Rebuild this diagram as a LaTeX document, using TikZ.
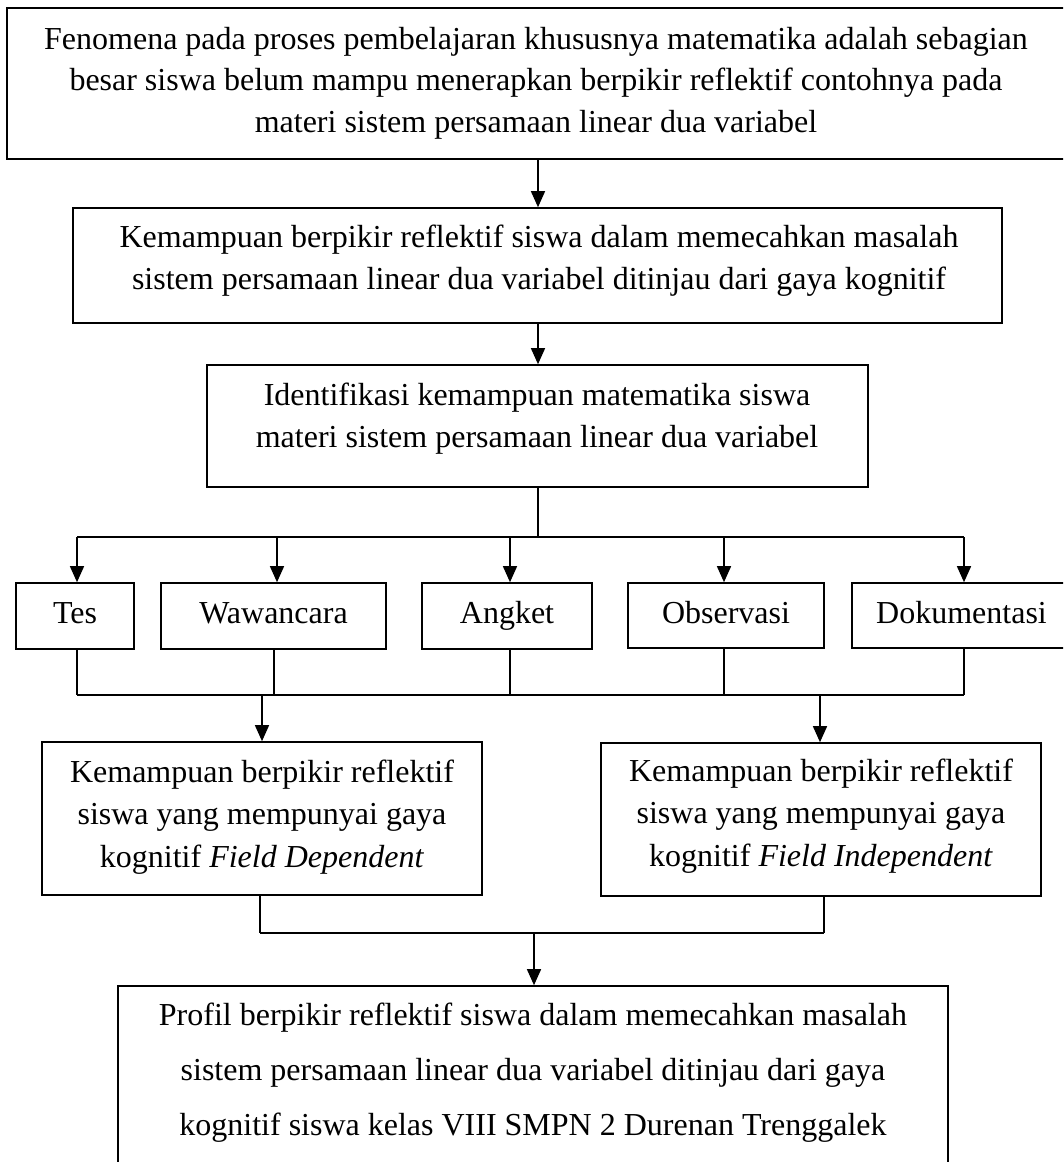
\documentclass[tikz,border=0pt]{standalone}
\usepackage{fontspec}
\setmainfont{Liberation Serif}
\usetikzlibrary{arrows.meta}
\newcommand{\mlines}[1]{\begin{tabular}[t]{@{}c@{}}#1\end{tabular}}
\begin{document}
\begin{tikzpicture}[x=1pt,y=-1pt,
  boxsty/.style={draw, line width=1.6pt, inner sep=0pt},
  txt/.style={inner sep=0pt, anchor=base, font=\fontsize{32}{42}\selectfont},
  ln/.style={line width=1.4pt},
  arr/.style={line width=1.4pt, -{Triangle[length=16pt,width=14pt]}}
]
\useasboundingbox (0,0) rectangle (1063,1162);
\clip (0,0) rectangle (1063,1162);

% boxes
\node[boxsty, minimum width=1063, minimum height=151] (b1) at (538.5,83.5) {};
\node[boxsty, minimum width=929, minimum height=115] (b2) at (537.5,265.5) {};
\node[boxsty, minimum width=661, minimum height=122] (b3) at (537.5,426) {};
\node[boxsty, minimum width=118, minimum height=66] (tes) at (75,616) {};
\node[boxsty, minimum width=225, minimum height=66] (waw) at (273.5,616) {};
\node[boxsty, minimum width=170, minimum height=66] (ang) at (507,616) {};
\node[boxsty, minimum width=196, minimum height=65] (obs) at (726,615.5) {};
\node[boxsty, minimum width=219, minimum height=65] (dok) at (961.5,615.5) {};
\node[boxsty, minimum width=440, minimum height=153] (fd) at (262,818.5) {};
\node[boxsty, minimum width=440, minimum height=153] (fi) at (821,819.5) {};
\node[boxsty, minimum width=830, minimum height=204] (b4) at (533,1088) {};

% texts
\node[txt, font=\fontsize{32}{41.5}\selectfont] (t1) at (536,49) {\mlines{Fenomena pada proses pembelajaran khususnya matematika adalah sebagian\\besar siswa belum mampu menerapkan berpikir reflektif contohnya pada\\materi sistem persamaan linear dua variabel}};
\node[txt] (t2) at (539,247) {\mlines{Kemampuan berpikir reflektif siswa dalam memecahkan masalah\\sistem persamaan linear dua variabel ditinjau dari gaya kognitif}};
\node[txt] (t3) at (537,405) {\mlines{Identifikasi kemampuan matematika siswa\\materi sistem persamaan linear dua variabel}};
\node[txt] (ttes) at (75,623) {Tes};
\node[txt] (twaw) at (273.5,623) {Wawancara};
\node[txt] (tang) at (507,623) {Angket};
\node[txt] (tobs) at (726,623) {Observasi};
\node[txt] (tdok) at (961.5,623) {Dokumentasi};
\node[txt, font=\fontsize{32}{42.5}\selectfont] (tfd) at (262,782) {\mlines{Kemampuan berpikir reflektif\\siswa yang mempunyai gaya\\kognitif \textit{Field Dependent}}};
\node[txt, font=\fontsize{32}{42.5}\selectfont] (tfi) at (821,781) {\mlines{Kemampuan berpikir reflektif\\siswa yang mempunyai gaya\\kognitif \textit{Field Independent}}};
\node[txt, font=\fontsize{32}{55}\selectfont] (t4) at (533,1025) {\mlines{Profil berpikir reflektif siswa dalam memecahkan masalah\\sistem persamaan linear dua variabel ditinjau dari gaya\\kognitif siswa kelas VIII SMPN 2 Durenan Trenggalek}};

% connectors
\coordinate (c1) at (538,0);
\draw[arr] (c1 |- b1.south) -- (c1 |- b2.north);
\draw[arr] (c1 |- b2.south) -- (c1 |- b3.north);
\coordinate (bar) at (538,537);
\draw[ln] (c1 |- b3.south) -- (bar);
\coordinate (d1) at (77,537);
\coordinate (d2) at (277,537);
\coordinate (d3) at (510,537);
\coordinate (d4) at (724,537);
\coordinate (d5) at (964,537);
\draw[ln] (d1) -- (d5);
\draw[arr] (d1) -- (d1 |- tes.north);
\draw[arr] (d2) -- (d2 |- waw.north);
\draw[arr] (d3) -- (d3 |- ang.north);
\draw[arr] (d4) -- (d4 |- obs.north);
\draw[arr] (d5) -- (d5 |- dok.north);
\coordinate (u1) at (77,695);
\coordinate (u2) at (274,695);
\coordinate (u3) at (510,695);
\coordinate (u4) at (724,695);
\coordinate (u5) at (964,695);
\draw[ln] (u1 |- tes.south) -- (u1);
\draw[ln] (u2 |- waw.south) -- (u2);
\draw[ln] (u3 |- ang.south) -- (u3);
\draw[ln] (u4 |- obs.south) -- (u4);
\draw[ln] (u5 |- dok.south) -- (u5);
\draw[ln] (u1) -- (u5);
\coordinate (fdin) at (262,695);
\coordinate (fiin) at (820,695);
\draw[arr] (fdin) -- (fdin |- fd.north);
\draw[arr] (fiin) -- (fiin |- fi.north);
\coordinate (fdout) at (260,933);
\coordinate (fiout) at (824,933);
\draw[ln] (fdout |- fd.south) -- (fdout);
\draw[ln] (fiout |- fi.south) -- (fiout);
\draw[ln] (fdout) -- (fiout);
\coordinate (lastin) at (534,933);
\draw[arr] (lastin) -- (lastin |- b4.north);
\end{tikzpicture}
\end{document}
